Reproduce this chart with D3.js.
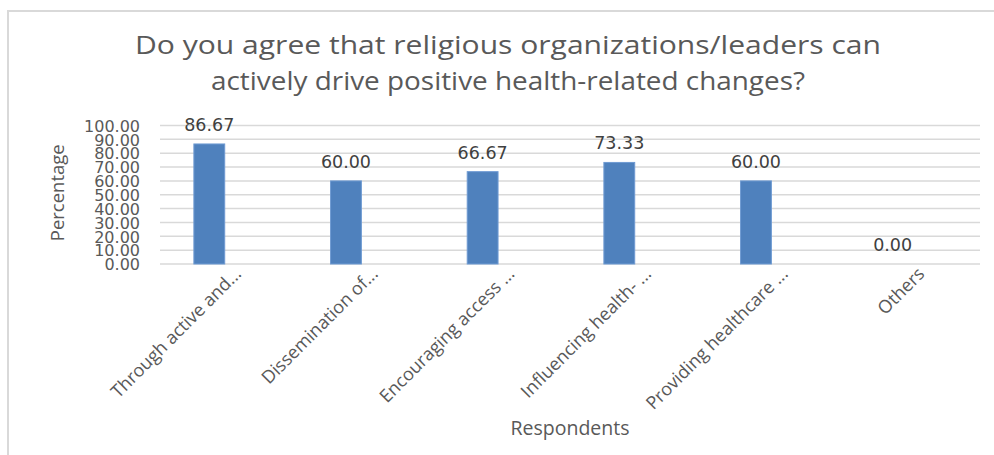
<!DOCTYPE html>
<html>
<head>
<meta charset="utf-8">
<script src="https://cdn.jsdelivr.net/npm/d3@7"></script>
<style>
  body { margin: 0; background: #fff; }
  svg { display: block; }
</style>
</head>
<body>
<svg id="chart" width="994" height="455"></svg>
<script>
// data
var categories = ["Through active and...", "Dissemination of...", "Encouraging access ...",
                  "Influencing health- ...", "Providing healthcare ...", "Others"];
var values = [86.67, 60.00, 66.67, 73.33, 60.00, 0.00];
var seriesKeys = ["Percentage", "blank"]; // second series is empty in the source chart
var yTicks = [0, 10, 20, 30, 40, 50, 60, 70, 80, 90, 100];
var titleLines = ["Do you agree that religious organizations/leaders can",
                  "actively drive positive health-related changes?"];
var titleWidths = [746, 594];

var svg = d3.select("#chart");
var textCol = "#595959";

// chart frame (light grey border, runs off right/bottom)
svg.append("rect")
  .attr("x", 8).attr("y", 11)
  .attr("width", 1000).attr("height", 460)
  .attr("fill", "none")
  .attr("stroke", "#d9d9d9")
  .attr("stroke-width", 2);

var margin = {top: 125.5, left: 160, right: 14, bottom: 191};
var width = 994 - margin.left - margin.right,
    height = 455 - margin.top - margin.bottom;

var g = svg.append("g")
  .attr("transform", "translate(" + margin.left + "," + margin.top + ")");

var x0 = d3.scaleBand().domain(categories).range([0, width]).padding(0);
var x1 = d3.scaleBand().domain(seriesKeys).range([0, x0.bandwidth()])
  .paddingInner(0.19).paddingOuter(0.89);
var y = d3.scaleLinear().domain([0, 100]).range([height, 0]);

// gridlines
g.selectAll(".grid").data(yTicks).enter().append("line")
  .attr("class", "grid")
  .attr("x1", 0).attr("x2", width)
  .attr("y1", function(d){ return y(d); })
  .attr("y2", function(d){ return y(d); })
  .attr("stroke", "#d9d9d9")
  .attr("stroke-width", 1.5);

// y axis labels (they crowd each other in the original too)
var yAxis = g.append("g")
  .call(d3.axisLeft(y).tickValues(yTicks).tickSize(0).tickPadding(20)
        .tickFormat(function(d){ return d3.format(".2f")(d); }));
yAxis.select(".domain").remove();
yAxis.selectAll("text")
  .attr("fill", textCol)
  .attr("font-family", "DejaVu Sans, sans-serif")
  .attr("font-size", 16)
  .attr("dy", "0.36em");

// bars
g.selectAll(".bar").data(values).enter().append("rect")
  .attr("class", "bar")
  .attr("x", function(d, i){ return x0(categories[i]) + x1(seriesKeys[0]); })
  .attr("width", x1.bandwidth())
  .attr("y", function(d){ return y(d); })
  .attr("height", function(d){ return height - y(d); })
  .attr("fill", "#4f81bd")
  .attr("stroke", "#6f9bd3")
  .attr("stroke-width", 1);

// value labels
g.selectAll(".val").data(values).enter().append("text")
  .attr("class", "val")
  .attr("x", function(d, i){ return x0(categories[i]) + x1(seriesKeys[0]) + x1.bandwidth() / 2; })
  .attr("y", function(d){ return y(d) - 13; })
  .attr("text-anchor", "middle")
  .attr("fill", "#404040")
  .attr("font-family", "DejaVu Sans, sans-serif")
  .attr("font-size", 17.5)
  .text(function(d){ return d3.format(".2f")(d); });

// x axis category labels, rotated
var xAxis = g.append("g")
  .attr("transform", "translate(0," + height + ")")
  .call(d3.axisBottom(x0).tickSize(0).tickPadding(0));
xAxis.select(".domain").remove();
xAxis.selectAll("text")
  .attr("fill", textCol)
  .attr("font-family", "Open Sans, sans-serif")
  .attr("font-size", 18)
  .attr("text-anchor", "end")
  .attr("dy", 0)
  .attr("y", 0)
  .attr("transform", "translate(14,11) rotate(-45)");

// axis titles
g.append("text")
  .attr("x", width / 2).attr("y", height + 171)
  .attr("text-anchor", "middle")
  .attr("fill", textCol)
  .attr("font-family", "Open Sans, sans-serif")
  .attr("font-size", 19.5)
  .text("Respondents");

g.append("text")
  .attr("transform", "translate(" + (-96) + "," + (height / 2 - 2) + ") rotate(-90)")
  .attr("text-anchor", "middle")
  .attr("fill", textCol)
  .attr("font-family", "Open Sans, sans-serif")
  .attr("font-size", 18.5)
  .text("Percentage");

// title
svg.selectAll(".title").data(titleLines).enter().append("text")
  .attr("class", "title")
  .attr("x", 508)
  .attr("y", function(d, i){ return 54 + i * 36; })
  .attr("text-anchor", "middle")
  .attr("fill", textCol)
  .attr("font-family", "Open Sans, sans-serif")
  .attr("font-size", 26)
  .attr("textLength", function(d, i){ return titleWidths[i]; })
  .attr("lengthAdjust", "spacingAndGlyphs")
  .text(function(d){ return d; });
</script>
</body>
</html>
